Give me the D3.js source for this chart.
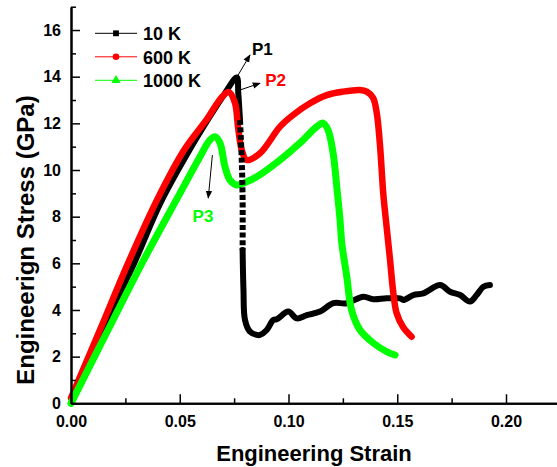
<!DOCTYPE html>
<html>
<head>
<meta charset="utf-8">
<script src="https://cdn.jsdelivr.net/npm/d3@7"></script>
<style>
body { margin: 0; background: #fff; }
svg { display: block; }
text { font-family: Arial, "Liberation Sans", sans-serif; font-weight: bold; }
</style>
</head>
<body>
<script>
// values: [strain, stress in GPa]
var seriesNames = ["10 K", "600 K", "1000 K"];

var curve10K = [[0,0],[0.0147,3.14],[0.0288,5.95],[0.0412,8.6],[0.0535,10.7],[0.0632,12.2],[0.0705,13.25],[0.0762,13.97],
  [0.0769,13.3],[0.0777,12.14],[0.0785,10.43],[0.0789,8.71],[0.0789,6.57],[0.0793,4.86],[0.08,3.57],[0.0823,3.07],
  [0.0854,2.93],[0.0869,2.93],[0.09,3.14],[0.093,3.57],[0.0946,3.6],[0.0999,3.93],[0.1038,3.64],[0.1084,3.78],
  [0.1145,3.93],[0.1206,4.29],[0.1268,4.29],[0.1344,4.57],[0.139,4.46],[0.1451,4.5],[0.1513,4.5],[0.1528,4.43],
  [0.1574,4.64],[0.162,4.71],[0.1697,5.07],[0.1743,4.78],[0.1789,4.64],[0.1834,4.36],[0.1865,4.64],[0.1896,5.0],[0.1926,5.07]];
// sparse (dotted looking) part of the 10 K drop, as point indexes
var sparse10K = [9, 12];

var curve600K = [[0,0.23],[0.0133,3.14],[0.0262,6.0],[0.0395,8.71],[0.052,10.86],[0.0625,12.18],[0.0694,13.13],[0.0726,13.34],
  [0.0754,12.87],[0.0768,11.84],[0.0785,10.86],[0.0808,10.43],[0.0869,10.72],[0.0961,11.86],[0.1021,12.36],[0.1099,12.86],
  [0.1176,13.21],[0.1251,13.36],[0.1329,13.43],[0.136,13.36],[0.1389,13.09],[0.1406,12.43],[0.1421,11.02],[0.1436,8.96],
  [0.1451,7.57],[0.1467,6.14],[0.1482,4.73],[0.1497,3.87],[0.1526,3.28],[0.1566,2.85]];

var curve1000K = [[0,0],[0.017,3.14],[0.0317,5.84],[0.0495,8.9],[0.0593,10.57],[0.0639,11.29],[0.0662,11.43],[0.0685,11.16],
  [0.0708,10.14],[0.0731,9.57],[0.0762,9.36],[0.0808,9.5],[0.0854,9.71],[0.0961,10.43],[0.1053,11.16],[0.113,11.86],
  [0.1159,12.01],[0.1182,11.71],[0.1205,10.73],[0.1222,9.28],[0.1237,7.86],[0.1245,6.87],[0.1268,5.43],[0.129,4.0],
  [0.1329,3.14],[0.1389,2.59],[0.1452,2.21],[0.149,2.07]];

var xTicks = [0, 0.05, 0.10, 0.15, 0.20];
var xMinorTicks = [0.025, 0.075, 0.125, 0.175, 0.225];
var yTicks = [0, 2, 4, 6, 8, 10, 12, 14, 16];
var yMinorTicks = [1, 3, 5, 7, 9, 11, 13, 15, 17];

// peak labels: arrow start, arrow end, label anchor
var peakLabels = ["P1", "P2", "P3"];
var arrowFrom = [[0.0762, 13.97], [0.0777, 13.43], [0.065, 10.64]];
var arrowTo = [[0.0823, 14.93], [0.0869, 13.72], [0.0631, 8.8]];
var labelAt = [[0.0832, 14.95], [0.0893, 13.6], [0.0607, 7.77]];

var colors = ["#000000", "#ff0000", "#00ff00"];
var width = 557, height = 467;

var svg = d3.select("body").append("svg").attr("width", width).attr("height", height);

var x = d3.scaleLinear().domain([0, 0.25]).range([71, 71 + 0.25 * 2175]);
var y = d3.scaleLinear().domain([0, 17]).range([403.3, 6.7]);

// curves
var line = d3.line().x(function(d){ return x(d[0]); }).y(function(d){ return y(d[1]); })
  .curve(d3.curveCatmullRom.alpha(0.5));

var curves = [curve10K, curve600K, curve1000K];
var solid10K = [curve10K.slice(0, sparse10K[0] + 1), curve10K.slice(sparse10K[1])];

var plot = svg.append("g");
solid10K.forEach(function(part){
  plot.append("path").attr("d", line(part)).attr("fill", "none").attr("stroke", colors[0])
    .attr("stroke-width", 6).attr("stroke-linejoin", "round").attr("stroke-linecap", "round");
});
[1, 2].forEach(function(i){
  plot.append("path").attr("d", line(curves[i])).attr("fill", "none").attr("stroke", colors[i])
    .attr("stroke-width", i == 2 ? 7 : 6.5).attr("stroke-linejoin", "round").attr("stroke-linecap", "round");
});
plot.append("path").attr("d", line(curve10K.slice(sparse10K[0], sparse10K[1] + 1)))
  .attr("fill", "none").attr("stroke", colors[0]).attr("stroke-width", 6).attr("stroke-dasharray", "5,2.5");

// axes
svg.append("g").attr("transform", "translate(0," + y(0) + ")")
  .call(d3.axisBottom(x).tickValues(xTicks).tickFormat(d3.format(".2f")).tickSizeInner(-9).tickSizeOuter(0).tickPadding(12));
svg.append("g").attr("transform", "translate(0," + y(0) + ")")
  .call(d3.axisBottom(x).tickValues(xMinorTicks).tickFormat("").tickSizeInner(-5).tickSizeOuter(0));
svg.append("g").attr("transform", "translate(" + x(0) + ",0)")
  .call(d3.axisLeft(y).tickValues(yTicks).tickSizeInner(-9).tickSizeOuter(0).tickPadding(10));
svg.append("g").attr("transform", "translate(" + x(0) + ",0)")
  .call(d3.axisLeft(y).tickValues(yMinorTicks).tickFormat("").tickSizeInner(-5).tickSizeOuter(0));

svg.selectAll(".domain").attr("stroke", "#000").attr("stroke-width", 2);
svg.selectAll(".tick line").attr("stroke", "#000").attr("stroke-width", 1.5);
svg.selectAll(".tick text").attr("font-size", 16).attr("fill", "#000")
  .attr("font-family", "Arial, 'Liberation Sans', sans-serif").attr("font-weight", "bold");

svg.append("text").attr("x", (71 + width) / 2).attr("y", 461).attr("text-anchor", "middle")
  .attr("font-size", 22).text("Engineering Strain");
svg.append("text").attr("transform", "translate(34,240) rotate(-90)").attr("text-anchor", "middle")
  .attr("font-size", 24).text("Engineerign Stress (GPa)");

// legend
var legend = svg.append("g");
seriesNames.forEach(function(name, i){
  var ly = 33.3 + i * 23.5;
  legend.append("line").attr("x1", 95).attr("x2", 137).attr("y1", ly).attr("y2", ly)
    .attr("stroke", colors[i]).attr("stroke-width", 1);
  var sym = i == 0 ? d3.symbolSquare : (i == 1 ? d3.symbolCircle : d3.symbolTriangle);
  legend.append("path").attr("d", d3.symbol().type(sym).size(i == 2 ? 36 : 34)())
    .attr("transform", "translate(116," + ly + ")").attr("fill", colors[i]);
  legend.append("text").attr("x", 143).attr("y", ly + 7).attr("font-size", 18).text(name);
});

// arrows to peaks
svg.append("defs").append("marker").attr("id", "head").attr("viewBox", "0 0 10 10")
  .attr("refX", 9).attr("refY", 5).attr("markerWidth", 8).attr("markerHeight", 8)
  .attr("markerUnits", "userSpaceOnUse").attr("orient", "auto")
  .append("path").attr("d", "M0,1L10,5L0,9Z").attr("fill", "#000");

peakLabels.forEach(function(lab, i){
  svg.append("line").attr("x1", x(arrowFrom[i][0])).attr("y1", y(arrowFrom[i][1]))
    .attr("x2", x(arrowTo[i][0])).attr("y2", y(arrowTo[i][1]))
    .attr("stroke", "#000").attr("stroke-width", 1).attr("marker-end", "url(#head)");
  svg.append("text").attr("x", x(labelAt[i][0])).attr("y", y(labelAt[i][1]))
    .attr("text-anchor", i == 2 ? "middle" : "start").attr("font-size", 17)
    .attr("fill", colors[i]).text(lab);
});
</script>
</body>
</html>
